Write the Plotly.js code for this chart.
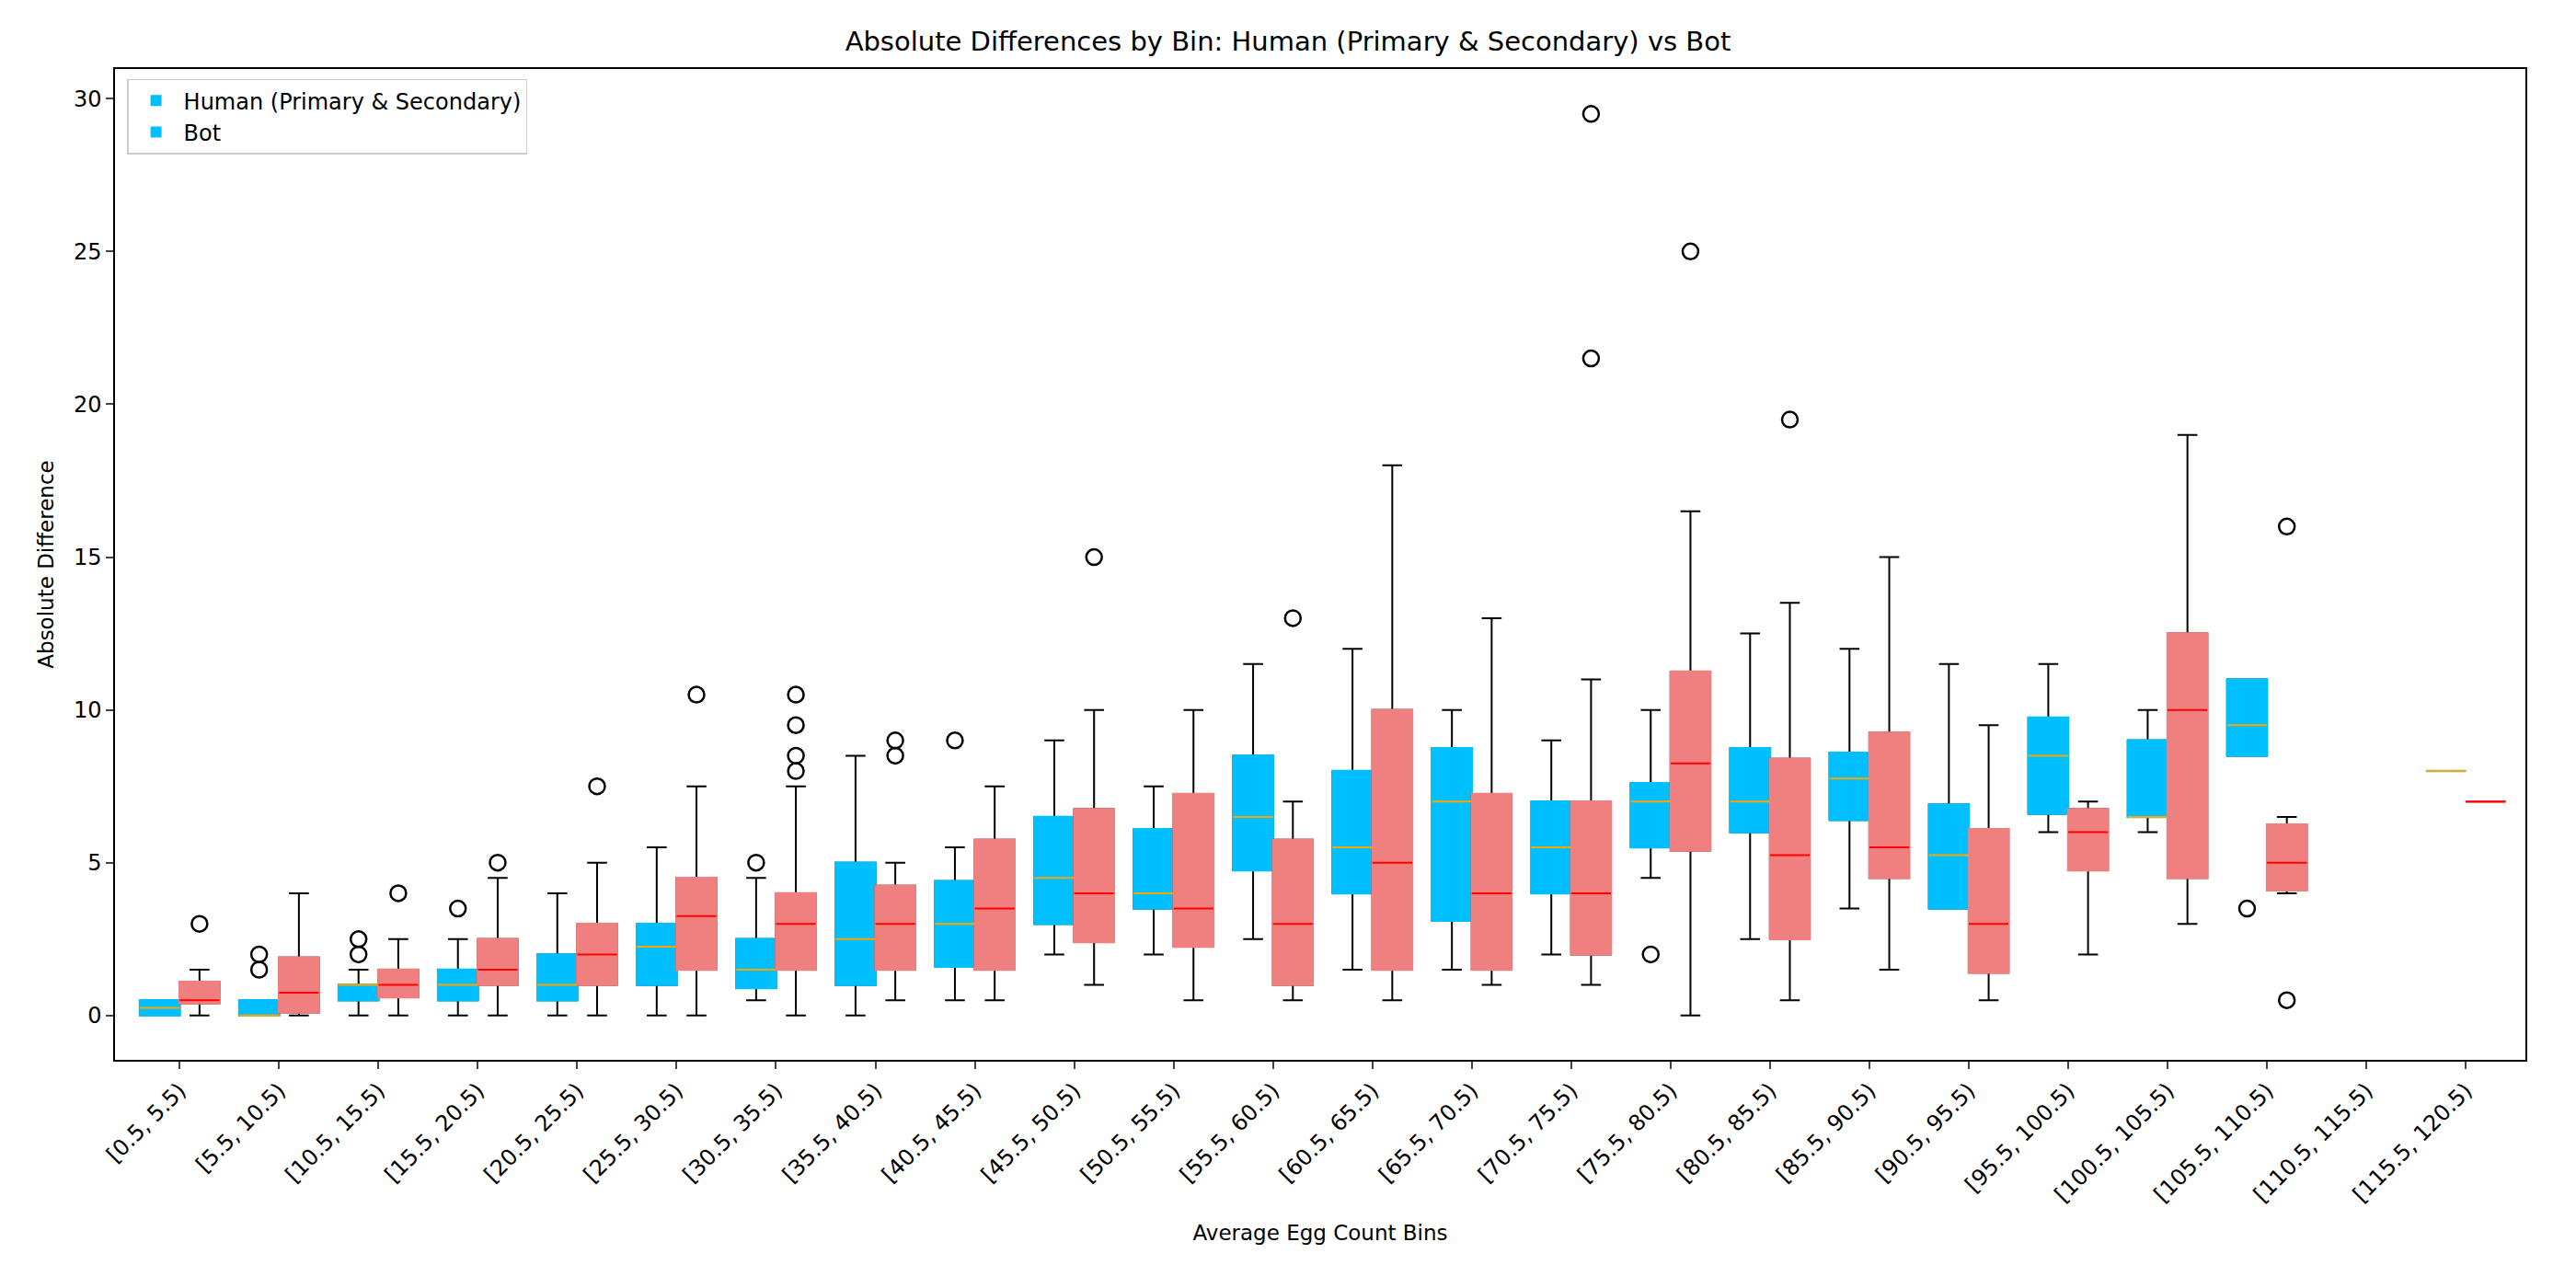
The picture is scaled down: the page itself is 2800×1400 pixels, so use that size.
<!DOCTYPE html>
<html><head><meta charset="utf-8">
<script src="https://cdn.plot.ly/plotly-3.0.1.min.js"></script>
<style>body{margin:0}</style></head>
<body><div id="c" style="width:2800px;height:1400px"></div>
<script>
const bins = ["[0.5, 5.5)","[5.5, 10.5)","[10.5, 15.5)","[15.5, 20.5)","[20.5, 25.5)","[25.5, 30.5)","[30.5, 35.5)","[35.5, 40.5)","[40.5, 45.5)","[45.5, 50.5)","[50.5, 55.5)","[55.5, 60.5)","[60.5, 65.5)","[65.5, 70.5)","[70.5, 75.5)","[75.5, 80.5)","[80.5, 85.5)","[85.5, 90.5)","[90.5, 95.5)","[95.5, 100.5)","[100.5, 105.5)","[105.5, 110.5)","[110.5, 115.5)","[115.5, 120.5)"];
const hIdx = [0,1,2,3,4,5,6,7,8,9,10,11,12,13,14,15,16,17,18,19,20,21,23];
const hLo  = [0,0,0,0,0,0,0.5,0,0.5,2,2,2.5,1.5,1.5,2,4.5,2.5,3.5,3.5,6,6,8.5,8];
const hQ1  = [0,0,0.5,0.5,0.5,1,0.9,1,1.6,3,3.5,4.75,4,3.1,4,5.5,6,6.4,3.5,6.6,6.5,8.5,8];
const hMed = [0.25,0,1,1,1,2.25,1.5,2.5,3,4.5,4,6.5,5.5,7,5.5,7,7,7.75,5.25,8.5,6.5,9.5,8];
const hQ3  = [0.5,0.5,1,1.5,2,3,2.5,5,4.4,6.5,6.1,8.5,8,8.75,7,7.6,8.75,8.6,6.9,9.75,9,11,8];
const hHi  = [0.5,0.5,1.5,2.5,4,5.5,4.5,8.5,5.5,9,7.5,11.5,12,10,9,10,12.5,12,11.5,11.5,10,11,8];
const hOutBin = [1,1,2,2,3,6,8,15,21];
const hOutVal = [1.5,2,2,2.5,3.5,5,9,2,3.5];
const bIdx = [0,1,2,3,4,5,6,7,8,9,10,11,12,13,14,15,16,17,18,19,20,21,23];
const bLo  = [0,0,0,0,0,0,0,0.5,0.5,1,0.5,0.5,0.5,1,1,0,0.5,1.5,0.5,2,3,4,7];
const bQ1  = [0.4,0.1,0.6,1,1,1.5,1.5,1.5,1.5,2.4,2.25,1,1.5,1.5,2,5.4,2.5,4.5,1.4,4.75,4.5,4.1,7];
const bMed = [0.5,0.75,1,1.5,2,3.25,3,3,3.5,4,3.5,3,5,4,4,8.25,5.25,5.5,3,6,10,5,7];
const bQ3  = [1.1,1.9,1.5,2.5,3,4.5,4,4.25,5.75,6.75,7.25,5.75,10,7.25,7,11.25,8.4,9.25,6.1,6.75,12.5,6.25,7];
const bHi  = [1.5,4,2.5,4.5,5,7.5,7.5,5,7.5,10,10,7,18,13,11,16.5,13.5,15,9.5,7,19,6.5,7];
const bOutBin = [0,2,3,4,5,6,6,6,6,7,7,9,11,14,14,15,16,21,21];
const bOutVal = [3,4,5,7.5,10.5,8,8.5,9.5,10.5,8.5,9,15,13,21.5,29.5,25,19.5,0.5,16];

const W = 0.4, OFF = 0.2;
function series(idx, lo, q1, med, q3, hi, sign, fill, medc, name){
  const x = idx.map(i => i + sign*OFF);
  const whisk = {type:'box', x, q1, median:med, q3, lowerfence:lo, upperfence:hi,
    width:W, whiskerwidth:0.5, line:{color:'black', width:2}, fillcolor:'rgba(0,0,0,0)',
    showlegend:false, hoverinfo:'skip', boxpoints:false};
  const body = {type:'box', x, q1, median:q1, q3, lowerfence:q1, upperfence:q3,
    width:W, whiskerwidth:0, line:{color:fill, width:2.5}, fillcolor:fill,
    showlegend:false, name, boxpoints:false};
  const mx=[], my=[];
  x.forEach((xx,k)=>{ mx.push(xx-W/2, xx+W/2, null); my.push(med[k], med[k], null); });
  const medTr = {type:'scatter', mode:'lines', x:mx, y:my, line:{color:medc, width:2}, showlegend:false, hoverinfo:'skip'};
  return [whisk, body, medTr];
}
function outliers(bin, val, sign){
  return {type:'scatter', mode:'markers', x:bin.map(i=>i+sign*OFF), y:val,
    marker:{symbol:'circle-open', size:17, color:'black', line:{width:2.5, color:'black'}}, showlegend:false};
}
const traces = [
  ...series(hIdx,hLo,hQ1,hMed,hQ3,hHi,-1,'#00BFFF','#FFA500','Human (Primary & Secondary)'),
  ...series(bIdx,bLo,bQ1,bMed,bQ3,bHi,1,'#F08080','#FF0000','Bot'),
  outliers(hOutBin,hOutVal,-1), outliers(bOutBin,bOutVal,1),
  {type:'bar', x:[null], y:[null], name:'Human (Primary & Secondary)', marker:{color:'#00BFFF'}},
  {type:'bar', x:[null], y:[null], name:'Bot', marker:{color:'#00BFFF'}}
];
const layout = {
  width:2800, height:1400, paper_bgcolor:'white', plot_bgcolor:'white',
  font:{family:'DejaVu Sans', size:24, color:'black'},
  margin:{l:125, r:55, t:75, b:248},
  title:{text:'Absolute Differences by Bin: Human (Primary & Secondary) vs Bot', font:{size:29}, x:0.5, y:0.975},
  boxmode:'overlay',
  xaxis:{range:[-0.65,23.6], tickmode:'array', tickvals:bins.map((_,i)=>i), ticktext:bins, tickangle:-45,
    showgrid:false, zeroline:false, showline:true, mirror:true, linecolor:'black', linewidth:1.5,
    ticks:'outside', ticklen:8, tickwidth:1.5,
    title:{text:'Average Egg Count Bins', standoff:20, font:{size:23}}},
  yaxis:{range:[-1.45,30.97], tickvals:[0,5,10,15,20,25,30], showgrid:false, zeroline:false,
    showline:true, mirror:true, linecolor:'black', linewidth:1.5, ticks:'outside', ticklen:8, tickwidth:1.5,
    title:{text:'Absolute Difference', standoff:15, font:{size:23}}},
  legend:{x:0.005, y:0.99, xanchor:'left', yanchor:'top', bgcolor:'white', bordercolor:'#cccccc', borderwidth:1.5,
    traceorder:'normal', font:{size:24}, itemwidth:50}
};
Plotly.newPlot('c', traces, layout, {displayModeBar:false});
</script></body></html>
